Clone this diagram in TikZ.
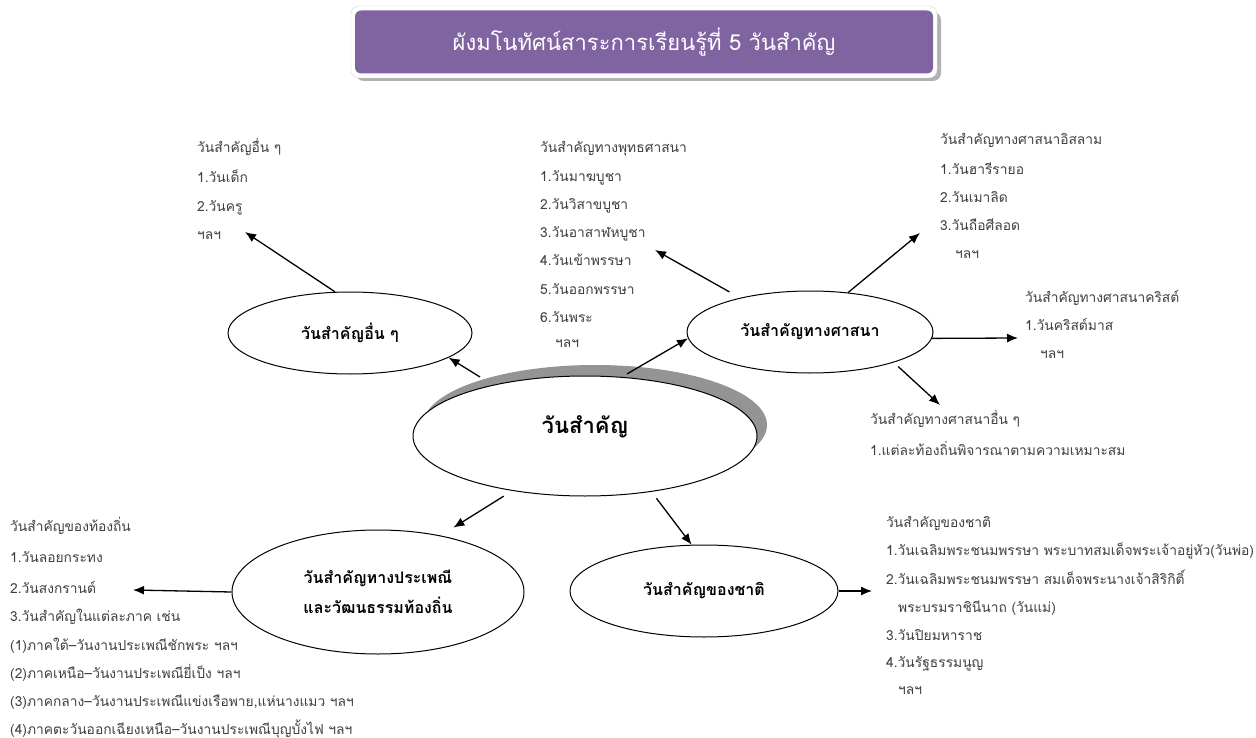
\documentclass[tikz,border=0pt]{standalone}
\usepackage{fontspec}
\newfontfamily\thai[Script=Thai]{Loma}
\usetikzlibrary{arrows.meta,shapes.geometric}
\definecolor{titlepurple}{HTML}{8064A2}
\definecolor{txtgray}{HTML}{404040}
\begin{document}
\begin{tikzpicture}[x=1pt,y=-1pt,
  conn/.style={line width=1.3pt,-{Latex[length=11pt,width=9pt]}},
  ell/.style={ellipse,draw,line width=1pt,fill=white,inner sep=0pt,align=center,
    font=\thai\bfseries\fontsize{16}{30}\selectfont},
  small/.style={font=\thai\fontsize{13.8}{16}\selectfont,text=txtgray,inner sep=0pt,anchor=base west}]
\useasboundingbox (0,0) rectangle (1256,738);
\fill[white] (0,0) rectangle (1256,738);

% title
\fill[black!30,rounded corners=8pt] (356,12) rectangle (941,81);
\filldraw[fill=white,draw=black!15,rounded corners=8pt] (351,6) rectangle (937,78);
\node[fill=titlepurple,rounded corners=6pt,minimum width=578pt,minimum height=63pt,
  text=white,font=\thai\fontsize{22}{26}\selectfont] (title) at (644,42) {ผังมโนทัศน์สาระการเรียนรู้ที่ 5 วันสำคัญ};

% central ellipse with shadow
\fill[black!42] (595,425) ellipse [x radius=172pt,y radius=60pt];
\node[ell,minimum width=344pt,minimum height=120pt,font=\thai\bfseries\fontsize{22}{26}\selectfont] (cen) at (585,436) {\raisebox{22pt}{วันสำคัญ}};

\node[ell,minimum width=244pt,minimum height=82pt] (oth) at (350,333) {วันสำคัญอื่น ๆ};
\node[ell,minimum width=246pt,minimum height=82pt] (rel) at (810,332) {วันสำคัญทางศาสนา};
\node[ell,minimum width=292pt,minimum height=124pt] (trad) at (378,592) {วันสำคัญทางประเพณี\\และวัฒนธรรมท้องถิ่น};
\node[ell,minimum width=268pt,minimum height=92pt] (nat) at (704,591) {วันสำคัญของชาติ};

% text blocks
\node[small] (othT1) at (197,152.5) {วันสำคัญอื่น ๆ};
\node[small] (othT2) at (197,182.5) {1.วันเด็ก};
\node[small] (othT3) at (197,211.5) {2.วันครู};
\node[small] (othT4) at (197,239.5) {ฯลฯ};

\node[small] (budT1) at (540,152.5) {วันสำคัญทางพุทธศาสนา};
\node[small] (budT2) at (540,181.5) {1.วันมาฆบูชา};
\node[small] (budT3) at (540,209.5) {2.วันวิสาขบูชา};
\node[small] (budT4) at (540,237.5) {3.วันอาสาฬหบูชา};
\node[small] (budT5) at (540,265.5) {4.วันเข้าพรรษา};
\node[small] (budT6) at (540,294.5) {5.วันออกพรรษา};
\node[small] (budT7) at (540,322.5) {6.วันพระ};
\node[small] (budT8) at (555,347.5) {ฯลฯ};

\node[small] (islT1) at (940,144.5) {วันสำคัญทางศาสนาอิสลาม};
\node[small] (islT2) at (940,174.5) {1.วันฮารีรายอ};
\node[small] (islT3) at (940,202.5) {2.วันเมาลิด};
\node[small] (islT4) at (940,230.5) {3.วันถือศีลอด};
\node[small] (islT5) at (955,258.5) {ฯลฯ};

\node[small] (chrT1) at (1025,302.5) {วันสำคัญทางศาสนาคริสต์};
\node[small] (chrT2) at (1025,330.5) {1.วันคริสต์มาส};
\node[small] (chrT3) at (1040,358.5) {ฯลฯ};

\node[small] (orlT1) at (870,424.5) {วันสำคัญทางศาสนาอื่น ๆ};
\node[small] (orlT2) at (870,455.5) {1.แต่ละท้องถิ่นพิจารณาตามความเหมาะสม};

\node[small] (locT1) at (10,531.5) {วันสำคัญของท้องถิ่น};
\node[small] (locT2) at (10,562.5) {1.วันลอยกระทง};
\node[small] (locT3) at (10,593.5) {2.วันสงกรานต์};
\node[small] (locT4) at (10,621.5) {3.วันสำคัญในแต่ละภาค เช่น};
\node[small] (locT5) at (10,650.5) {(1)ภาคใต้–วันงานประเพณีชักพระ ฯลฯ};
\node[small] (locT6) at (10,678.5) {(2)ภาคเหนือ–วันงานประเพณียี่เป็ง ฯลฯ};
\node[small] (locT7) at (10,706.5) {(3)ภาคกลาง–วันงานประเพณีแข่งเรือพาย,แห่นางแมว ฯลฯ};
\node[small] (locT8) at (10,734) {(4)ภาคตะวันออกเฉียงเหนือ–วันงานประเพณีบุญบั้งไฟ ฯลฯ};

\node[small] (natT1) at (886,527.5) {วันสำคัญของชาติ};
\node[small] (natT2) at (886,555.5) {1.วันเฉลิมพระชนมพรรษา พระบาทสมเด็จพระเจ้าอยู่หัว(วันพ่อ)};
\node[small] (natT3) at (886,584.5) {2.วันเฉลิมพระชนมพรรษา สมเด็จพระนางเจ้าสิริกิติ์};
\node[small] (natT4) at (898,612.5) {พระบรมราชินีนาถ (วันแม่)};
\node[small] (natT5) at (886,640.5) {3.วันปิยมหาราช};
\node[small] (natT6) at (886,667.5) {4.วันรัฐธรรมนูญ};
\node[small] (natT7) at (898,694.5) {ฯลฯ};

% free ends
\coordinate (pOth) at (245,232);
\coordinate (pBud) at (655,250);
\coordinate (pIsl) at (920,233);
\coordinate (pChr) at (1018,338);
\coordinate (pOrl) at (940,405);
\coordinate (pLoc) at (133,590);
\coordinate (pNat) at (872,591);

% connectors
\draw[conn,shorten <=15pt] (cen.151) -- (oth.-14.5);
\draw[conn] (oth.110) -- (pOth);
\draw[conn,shorten <=6pt] (cen.58) -- (rel.183);
\draw[conn,shorten <=12pt] (rel.154) -- (pBud);
\draw[conn] (rel.46.5) -- (pIsl);
\draw[conn] (rel.-3) -- (pChr);
\draw[conn,shorten <=6pt] (rel.-20) -- (pOrl);
\draw[conn,shorten <=10pt,shorten >=15pt] (cen.217) -- (trad.42);
\draw[conn] (trad.180) -- (pLoc);
\draw[conn,shorten <=8pt] (cen.-40) -- (nat.105);
\draw[conn] (nat.0) -- (pNat);
\end{tikzpicture}
\end{document}
